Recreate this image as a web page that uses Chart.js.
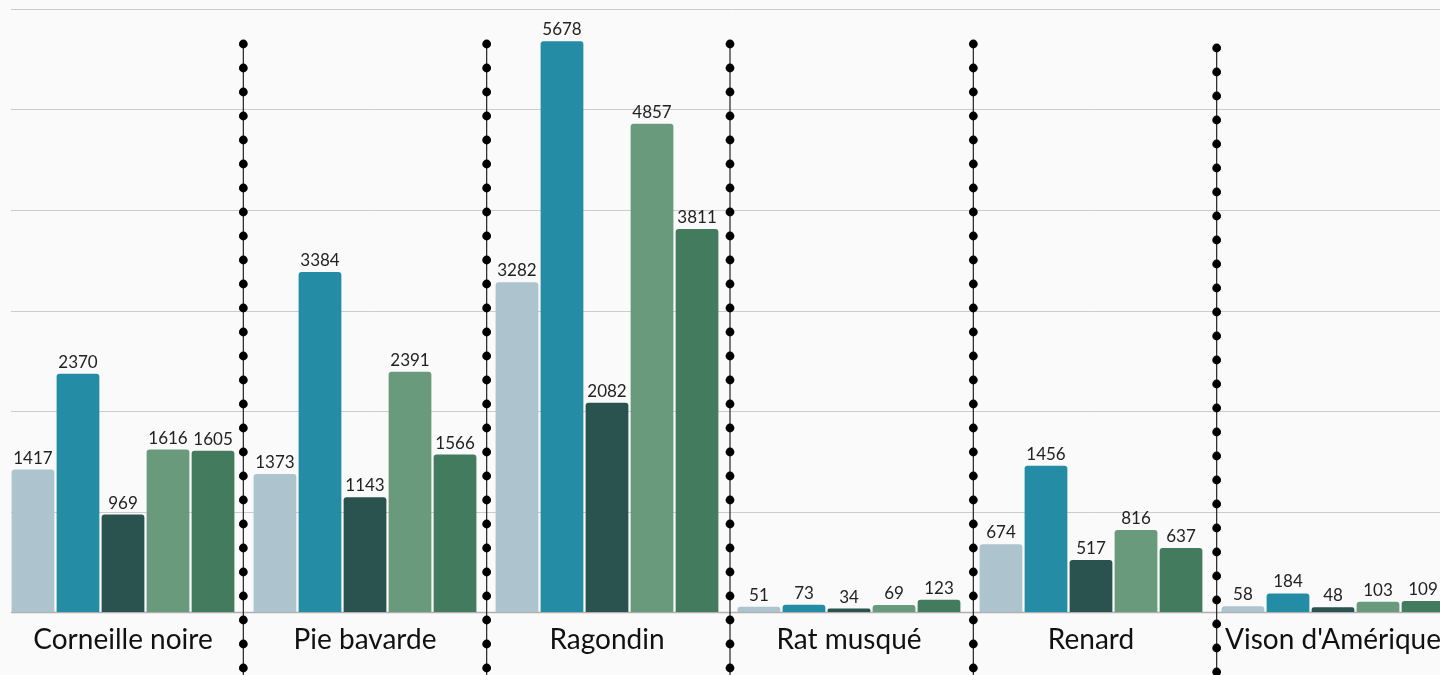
<!DOCTYPE html>
<html lang="fr">
<head>
<meta charset="utf-8">
<title>Espèces</title>
<script src="https://cdn.jsdelivr.net/npm/chart.js@4.4.1/dist/chart.umd.min.js"></script>
<style>
  html, body { margin: 0; padding: 0; background: #fafafa; overflow: hidden; }
  #wrap { width: 1454px; height: 675px; position: relative; }
</style>
</head>
<body>
<div id="wrap"><canvas id="graphique"></canvas></div>
<script>
// Données
const categories = ['Corneille noire', 'Pie bavarde', 'Ragondin', 'Rat musqué', 'Renard', "Vison d'Amérique"];
const serie1 = [1417, 1373, 3282, 51, 674, 58];
const serie2 = [2370, 3384, 5678, 73, 1456, 184];
const serie3 = [969, 1143, 2082, 34, 517, 48];
const serie4 = [1616, 2391, 4857, 69, 816, 103];
const serie5 = [1605, 1566, 3811, 123, 637, 109];
const nomsSeries = ['Série 1', 'Série 2', 'Série 3', 'Série 4', 'Série 5'];
const couleurs = ['#adc4ce', '#248ca4', '#2a524f', '#6a9a7c', '#437b5e'];
const graduations = [0, 1000, 2000, 3000, 4000, 5000, 6000];

const police = 'Lato, "Noto Sans", sans-serif';

// Grille horizontale (commence un peu après le bord gauche)
const grille = {
    id: 'grille',
    beforeDatasetsDraw(chart) {
        const ctx = chart.ctx;
        const y = chart.scales.y;
        const area = chart.chartArea;
        ctx.save();
        graduations.forEach(function (v) {
            const py = Math.round(y.getPixelForValue(v)) + 0.5;
            ctx.strokeStyle = v === 0 ? '#b0b0b0' : '#cccccc';
            ctx.lineWidth = v === 0 ? 1.5 : 1;
            ctx.beginPath();
            ctx.moveTo(11, py);
            ctx.lineTo(area.right, py);
            ctx.stroke();
        });
        ctx.restore();
    }
};

// Valeurs au-dessus des barres
const etiquettes = {
    id: 'etiquettes',
    afterDatasetsDraw(chart) {
        const ctx = chart.ctx;
        ctx.save();
        ctx.font = '17px ' + police;
        ctx.fillStyle = '#222';
        ctx.textAlign = 'center';
        ctx.textBaseline = 'bottom';
        chart.data.datasets.forEach(function (ds, i) {
            chart.getDatasetMeta(i).data.forEach(function (bar, j) {
                ctx.fillText(ds.data[j], bar.x, bar.y - 3);
            });
        });
        ctx.restore();
    }
};

// Séparateurs pointillés, espacés sur une largeur un peu plus grande que la zone du graphique
const separateurs = {
    id: 'separateurs',
    afterDraw(chart) {
        const ctx = chart.ctx;
        const bas = chart.height;
        const pas = 1460 / categories.length;
        const departs = [44, 44, 44, 44, 48];
        ctx.save();
        for (let i = 0; i < categories.length - 1; i++) {
            const px = pas * (i + 1);
            const haut = departs[i];
            ctx.strokeStyle = '#222';
            ctx.lineWidth = 1.2;
            ctx.beginPath();
            ctx.moveTo(px, haut);
            ctx.lineTo(px, bas);
            ctx.stroke();
            ctx.fillStyle = '#000';
            for (let py = haut; py < bas + 5; py += 24) {
                ctx.beginPath();
                ctx.arc(px, py, 4.4, 0, Math.PI * 2);
                ctx.fill();
            }
        }
        ctx.restore();
    }
};

const series = [serie1, serie2, serie3, serie4, serie5];

new Chart(document.getElementById('graphique'), {
    type: 'bar',
    data: {
        labels: categories,
        datasets: series.map(function (s, i) {
            return {
                label: nomsSeries[i],
                data: s,
                backgroundColor: couleurs[i],
                borderRadius: { topLeft: 3, topRight: 3 },
                borderSkipped: 'bottom',
                categoryPercentage: 0.93,
                barPercentage: 0.95
            };
        })
    },
    options: {
        responsive: true,
        maintainAspectRatio: false,
        animation: false,
        layout: { padding: { top: 9, left: 2, right: 0, bottom: 0 } },
        plugins: {
            legend: { display: false },
            tooltip: { enabled: false }
        },
        scales: {
            x: {
                grid: { display: false, drawTicks: false },
                border: { display: false },
                ticks: {
                    color: '#111',
                    font: { family: police, size: 28 },
                    padding: 11,
                    autoSkip: false,
                    maxRotation: 0
                },
                afterFit: function (scale) { scale.height = 63; }
            },
            y: {
                display: false,
                min: 0,
                max: 6000
            }
        }
    },
    plugins: [grille, etiquettes, separateurs]
});
</script>
</body>
</html>
